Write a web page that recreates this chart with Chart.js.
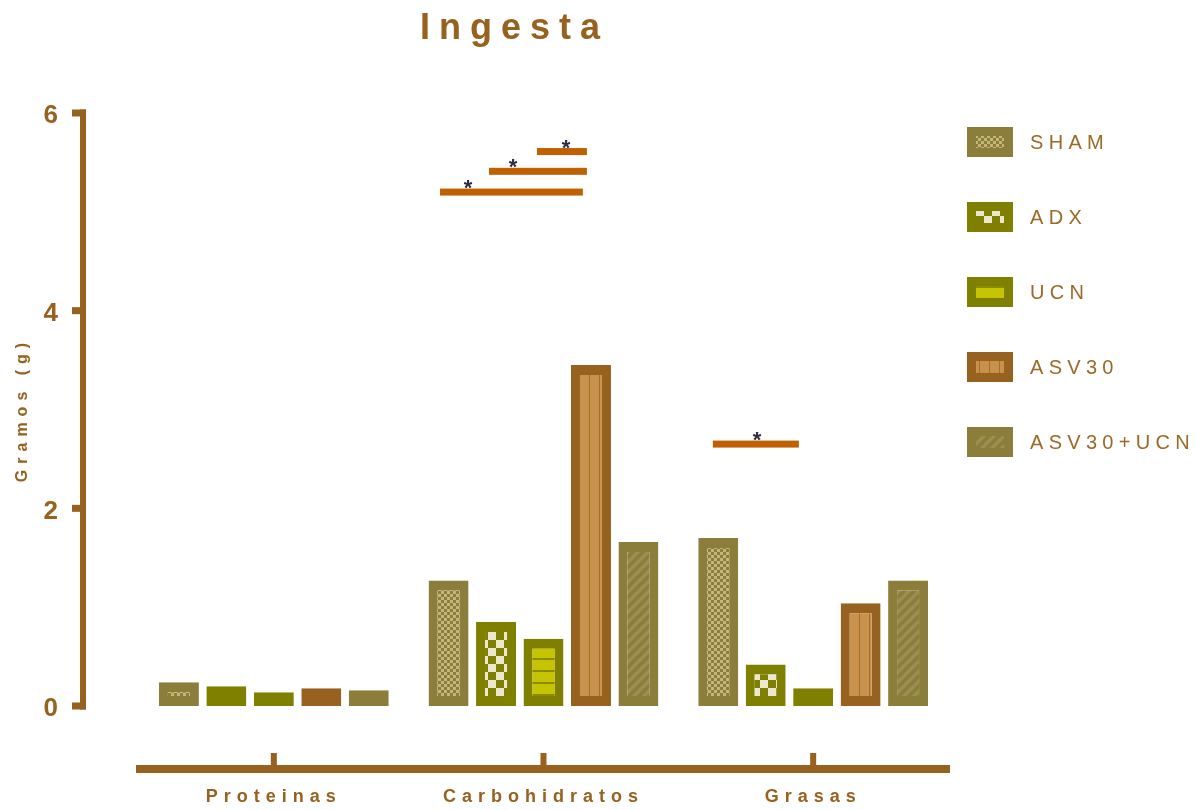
<!DOCTYPE html>
<html>
<head>
<meta charset="utf-8">
<script src="https://cdn.jsdelivr.net/npm/chart.js@4/dist/chart.umd.min.js"></script>
<style>
  html, body { margin: 0; padding: 0; background: #fff; }
</style>
</head>
<body>
<canvas id="myChart" width="1199" height="810"></canvas>
<script>
const categories = ['Proteinas', 'Carbohidratos', 'Grasas'];
const groups = ['SHAM', 'ADX', 'UCN', 'ASV30', 'ASV30+UCN'];
const sham = [0.24, 1.27, 1.70];
const adx = [0.20, 0.85, 0.42];
const ucn = [0.14, 0.68, 0.18];
const asv30 = [0.18, 3.45, 1.04];
const asv30ucn = [0.16, 1.66, 1.27];
const yTicks = [0, 2, 4, 6];

// significance bars (category index, span as fraction of category width, height in g)
const sigCategory = [1, 1, 1, 2];
const sigFrom = [-0.384, -0.202, -0.024, -0.372];
const sigTo = [0.146, 0.161, 0.161, -0.053];
const sigY = [5.20, 5.41, 5.61, 2.65];
const sigStar = [-0.28, -0.113, 0.084, -0.208];

const brown = '#97621f';
const sans = '"Liberation Sans", Arial, sans-serif';

const ctx = document.getElementById('myChart').getContext('2d');

function makePattern(w, h, draw) {
    const c = document.createElement('canvas');
    c.width = w;
    c.height = h;
    draw(c.getContext('2d'));
    return ctx.createPattern(c, 'repeat');
}

const shamFill = makePattern(6, 6, g => {
    g.fillStyle = '#8b7d3a'; g.fillRect(0, 0, 6, 6);
    g.fillStyle = '#c3b57b'; g.fillRect(0, 0, 3, 3); g.fillRect(3, 3, 3, 3);
});
const adxFill = makePattern(16, 16, g => {
    g.fillStyle = '#808000'; g.fillRect(0, 0, 16, 16);
    g.fillStyle = '#ece8d0'; g.fillRect(0, 0, 8, 8); g.fillRect(8, 8, 8, 8);
});
const ucnFill = makePattern(4, 12, g => {
    g.fillStyle = '#c6c300'; g.fillRect(0, 0, 4, 10);
    g.fillStyle = '#8c8a00'; g.fillRect(0, 10, 4, 2);
});
const asvFill = makePattern(10, 4, g => {
    g.fillStyle = '#c8914c'; g.fillRect(0, 0, 10, 4);
    g.fillStyle = '#a56c2b'; g.fillRect(9, 0, 1, 4);
});
const asvUcnFill = makePattern(10, 10, g => {
    g.fillStyle = '#8b7d3a'; g.fillRect(0, 0, 10, 10);
    g.strokeStyle = '#9d8d52'; g.lineWidth = 3.5;
    for (let k = -1; k <= 1; k++) {
        g.beginPath(); g.moveTo(-2, 12 + k * 10); g.lineTo(12, -2 + k * 10); g.stroke();
    }
});

const seriesValues = [sham, adx, ucn, asv30, asv30ucn];
const baseColors = ['#8b7d3a', '#808000', '#808000', '#97621f', '#8b7d3a'];
const fills = [shamFill, adxFill, ucnFill, asvFill, asvUcnFill];

// axes, significance marks, title and legend
const decor = {
    id: 'decor',
    beforeDraw(chart) { chart.ctx.letterSpacing = '6px'; },
    beforeDatasetsDraw(chart) { chart.ctx.letterSpacing = '0px'; },
    afterDraw(chart) {
        const c = chart.ctx;
        const xs = chart.scales.x, ys = chart.scales.y;
        c.save();
        c.letterSpacing = '0px';
        c.fillStyle = brown;
        const y0 = ys.getPixelForValue(yTicks[0]);
        const yTop = ys.getPixelForValue(yTicks[yTicks.length - 1]);
        c.fillRect(80, yTop - 3.5, 6, y0 - yTop + 7);
        yTicks.forEach(v => {
            const p = ys.getPixelForValue(v);
            c.fillRect(72, p - 3.5, 14, 7);
        });
        const lineY = y0 + 59;
        c.fillRect(chart.chartArea.left - 3, lineY, chart.chartArea.right - chart.chartArea.left + 5, 8);
        categories.forEach((_, i) => {
            const p = xs.getPixelForValue(i);
            c.fillRect(p - 3, lineY - 12, 6, 12);
        });

        const catW = xs.width / categories.length;
        sigY.forEach((v, k) => {
            const cx = xs.getPixelForValue(sigCategory[k]);
            const x0 = cx + sigFrom[k] * catW, x1 = cx + sigTo[k] * catW;
            const y = ys.getPixelForValue(v);
            c.fillStyle = '#c06000';
            c.fillRect(x0, y - 3.5, x1 - x0, 7);
            c.fillStyle = '#2b2b45';
            c.font = 'bold 22px ' + sans;
            c.textAlign = 'center';
            c.textBaseline = 'alphabetic';
            c.fillText('*', cx + sigStar[k] * catW, y + 3);
        });

        c.fillStyle = brown;
        c.letterSpacing = '9px';
        c.font = 'bold 36px ' + sans;
        c.textAlign = 'left';
        c.fillText('Ingesta', 420, 39);

        c.font = '20px ' + sans;
        c.letterSpacing = '5.3px';
        c.textBaseline = 'middle';
        groups.forEach((name, i) => {
            const by = 127 + 75 * i;
            c.fillStyle = baseColors[i];
            c.fillRect(967, by, 46, 30);
            c.fillStyle = fills[i];
            c.fillRect(976, by + 9, 28, 12);
            c.fillStyle = '#9a6a28';
            c.fillText(name, 1030, by + 16);
        });
        c.restore();
    }
};

const chart = new Chart(ctx, {
    type: 'bar',
    data: {
        labels: categories,
        datasets: groups.map((g, i) => ({
            label: g,
            data: seriesValues[i],
            backgroundColor: fills[i],
            borderColor: baseColors[i],
            borderWidth: { top: 10, bottom: 10, left: 9, right: 9 },
            borderSkipped: false,
            categoryPercentage: 0.88,
            barPercentage: 0.842
        }))
    },
    options: {
        responsive: false,
        animation: false,
        layout: { padding: { top: 113, bottom: 2, left: 0, right: 251 } },
        plugins: {
            legend: { display: false },
            title: { display: false },
            tooltip: { enabled: false }
        },
        scales: {
            x: {
                afterFit: s => { s.height = 102; },
                grid: { display: false, drawTicks: false },
                border: { display: false },
                ticks: {
                    color: brown,
                    font: { family: sans, size: 18, weight: 'bold' },
                    padding: 80,
                    maxRotation: 0,
                    autoSkip: false
                }
            },
            y: {
                min: 0,
                max: 6,
                afterBuildTicks: s => { s.ticks = yTicks.map(v => ({ value: v })); },
                afterFit: s => { s.width = 139; },
                grid: { display: false, drawTicks: false },
                border: { display: false },
                ticks: {
                    color: brown,
                    font: { family: sans, size: 26, weight: 'bold' },
                    padding: 75,
                    labelOffset: 3
                },
                title: {
                    display: true,
                    text: 'Gramos (g)',
                    color: brown,
                    font: { family: sans, size: 16, weight: 'bold' },
                    padding: { top: 13, bottom: 0 }
                }
            }
        }
    },
    plugins: [decor]
});
</script>
</body>
</html>
